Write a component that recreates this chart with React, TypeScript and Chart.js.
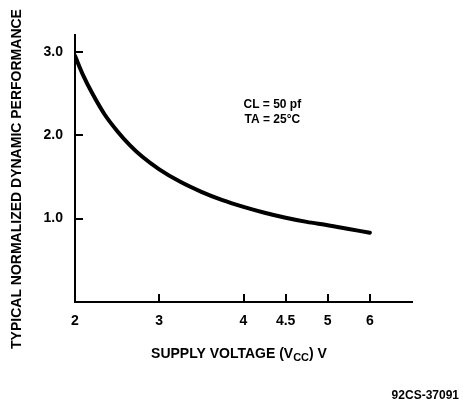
import React, { useEffect, useRef } from "react";
import { Chart, registerables } from "chart.js";

Chart.register(...registerables);

// ---- data ----
const VOLTAGES = [2.0, 2.1, 2.2, 2.35, 2.5, 2.65, 2.8, 3.0, 3.25, 3.5, 3.75, 4.0, 4.25, 4.5, 4.75, 5.0, 5.5, 6.0];
const PERFORMANCE = [2.95, 2.71, 2.51, 2.25, 2.05, 1.88, 1.74, 1.59, 1.44, 1.32, 1.22, 1.14, 1.07, 1.01, 0.96, 0.92, 0.875, 0.83];

// x axis as printed: tick "6" sits where 5.5 would be on the linear scale
const X_TICK_VALUES = [2, 3, 4, 4.5, 5, 6];
const X_TICK_POSITIONS = [2, 3, 4, 4.5, 5, 5.5];
const X_TICK_LABELS = ["2", "3", "4", "4.5", "5", "6"];
const Y_TICK_VALUES = [1, 2, 3];
const Y_TICK_LABELS = ["1.0", "2.0", "3.0"];

const Y_TITLE = "TYPICAL NORMALIZED DYNAMIC PERFORMANCE";
const X_TITLE_PARTS = ["SUPPLY VOLTAGE (V", "CC", ") V"];
const NOTE_LINES = ["CL = 50 pf", "TA = 25\u00B0C"];
const FIGURE_CODE = "92CS-37091";

const FONT = "'Liberation Sans', Arial, Helvetica, sans-serif";

// map a voltage onto the printed (non-uniform) axis
function voltToAxis(v: number): number {
  for (let i = 0; i < X_TICK_VALUES.length - 1; i++) {
    const a = X_TICK_VALUES[i];
    const b = X_TICK_VALUES[i + 1];
    if (v <= b || i === X_TICK_VALUES.length - 2) {
      const t = (v - a) / (b - a);
      return X_TICK_POSITIONS[i] + t * (X_TICK_POSITIONS[i + 1] - X_TICK_POSITIONS[i]);
    }
  }
  return v;
}

const decorPlugin = {
  id: "decor",
  afterDraw(chart: any) {
    const ctx = chart.ctx as CanvasRenderingContext2D;
    const xs = chart.scales.x;
    const ys = chart.scales.y;
    const area = chart.chartArea;
    ctx.save();
    ctx.strokeStyle = "#000";
    ctx.fillStyle = "#000";
    ctx.lineWidth = 2;
    // inward tick marks
    X_TICK_POSITIONS.slice(1).forEach((p) => {
      const x = Math.round(xs.getPixelForValue(p));
      ctx.beginPath();
      ctx.moveTo(x, area.bottom);
      ctx.lineTo(x, area.bottom - 8);
      ctx.stroke();
    });
    Y_TICK_VALUES.forEach((v) => {
      const y = Math.round(ys.getPixelForValue(v));
      ctx.beginPath();
      ctx.moveTo(area.left, y);
      ctx.lineTo(area.left + 8, y);
      ctx.stroke();
    });

    // y title
    ctx.font = `bold 14px ${FONT}`;
    ctx.textAlign = "center";
    ctx.textBaseline = "middle";
    ctx.save();
    ctx.translate(17, 179);
    ctx.rotate(-Math.PI / 2);
    ctx.fillText(Y_TITLE, 0, 0);
    ctx.restore();

    // x title with subscript
    const mainFont = `bold 14px ${FONT}`;
    const subFont = `bold 11px ${FONT}`;
    ctx.textAlign = "left";
    ctx.textBaseline = "alphabetic";
    ctx.font = mainFont;
    const w0 = ctx.measureText(X_TITLE_PARTS[0]).width;
    const w2 = ctx.measureText(X_TITLE_PARTS[2]).width;
    ctx.font = subFont;
    const w1 = ctx.measureText(X_TITLE_PARTS[1]).width;
    const total = w0 + w1 + w2;
    const x0 = 239 - total / 2;
    const base = 358;
    ctx.font = mainFont;
    ctx.fillText(X_TITLE_PARTS[0], x0, base);
    ctx.font = subFont;
    ctx.fillText(X_TITLE_PARTS[1], x0 + w0, base + 3);
    ctx.font = mainFont;
    ctx.fillText(X_TITLE_PARTS[2], x0 + w0 + w1, base);

    // conditions note
    ctx.font = `bold 12px ${FONT}`;
    ctx.textBaseline = "middle";
    const nx = xs.getPixelForValue(voltToAxis(4.0));
    ctx.fillText(NOTE_LINES[0], nx, ys.getPixelForValue(2.37));
    ctx.fillText(NOTE_LINES[1], nx + 1, ys.getPixelForValue(2.19));

    // figure code
    ctx.font = `bold 12px ${FONT}`;
    ctx.textAlign = "right";
    ctx.fillText(FIGURE_CODE, 459, 396);
    ctx.restore();
  },
};

export default function App() {
  const ref = useRef<HTMLCanvasElement | null>(null);

  useEffect(() => {
    if (!ref.current) return;
    const chart = new Chart(ref.current, {
      type: "line",
      data: {
        datasets: [
          {
            data: VOLTAGES.map((v, i) => ({ x: voltToAxis(v), y: PERFORMANCE[i] })),
            borderColor: "#000",
            borderWidth: 4,
            borderCapStyle: "round",
            borderJoinStyle: "round",
            pointRadius: 0,
            cubicInterpolationMode: "monotone",
            fill: false,
          },
        ],
      },
      options: {
        animation: false,
        responsive: false,
        devicePixelRatio: 1,
        layout: { padding: { top: 35, right: 51, left: 0, bottom: 0 } },
        plugins: { legend: { display: false }, tooltip: { enabled: false } },
        scales: {
          x: {
            type: "linear",
            min: 2,
            max: 6,
            grid: { display: false, drawTicks: false },
            border: { display: true, color: "#000", width: 2 },
            afterFit: (s: any) => {
              s.height = 105;
            },
            afterBuildTicks: (s: any) => {
              s.ticks = X_TICK_POSITIONS.map((v) => ({ value: v }));
            },
            ticks: {
              autoSkip: false,
              maxRotation: 0,
              color: "#000",
              padding: 11,
              font: { family: FONT, size: 14, weight: "bold" },
              callback: (_v: any, i: number) => X_TICK_LABELS[i],
            },
          },
          y: {
            type: "linear",
            min: 0,
            max: 3.2,
            grid: { display: false, drawTicks: false },
            border: { display: true, color: "#000", width: 2 },
            afterFit: (s: any) => {
              s.width = 75;
            },
            afterBuildTicks: (s: any) => {
              s.ticks = Y_TICK_VALUES.map((v) => ({ value: v }));
            },
            ticks: {
              color: "#000",
              padding: 12,
              font: { family: FONT, size: 14, weight: "bold" },
              callback: (_v: any, i: number) => Y_TICK_LABELS[i],
            },
          },
        },
      },
      plugins: [decorPlugin],
    } as any);
    return () => chart.destroy();
  }, []);

  return (
    <div style={{ position: "fixed", left: 0, top: 0, width: 463, height: 407, background: "#fff" }}>
      <canvas ref={ref} width={463} height={407} style={{ display: "block" }} />
    </div>
  );
}
